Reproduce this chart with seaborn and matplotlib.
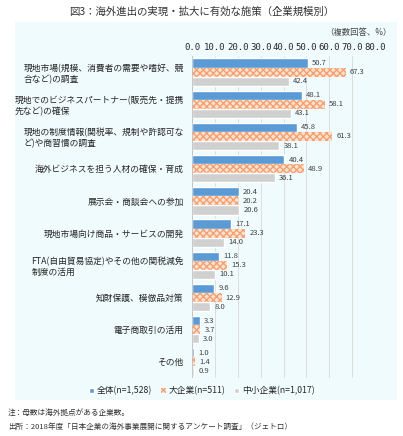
import matplotlib
matplotlib.use("Agg")
import matplotlib.pyplot as plt
import seaborn as sns
import pandas as pd
from matplotlib.patches import Rectangle

categories = ["現地市場(規模、消費者の需要や嗜好、競\n合など)の調査",
              "現地でのビジネスパートナー(販売先・提携\n先など)の確保",
              "現地の制度情報(関税率、規制や許認可な\nど)や商習慣の調査",
              "海外ビジネスを担う人材の確保・育成",
              "展示会・商談会への参加",
              "現地市場向け商品・サービスの開発",
              "FTA(自由貿易協定)やその他の関税減免\n制度の活用",
              "知財保護、模倣品対策",
              "電子商取引の活用",
              "その他"]
series = ["全体(n=1,528)", "大企業(n=511)", "中小企業(n=1,017)"]
all_vals = [50.7, 48.1, 45.8, 40.4, 20.4, 17.1, 11.8, 9.6, 3.3, 1.0]
large_vals = [67.3, 58.1, 61.3, 48.9, 20.2, 23.3, 15.3, 12.9, 3.7, 1.4]
sme_vals = [42.4, 43.1, 38.1, 36.1, 20.6, 14.0, 10.1, 8.0, 3.0, 0.9]
ticks = [0, 10, 20, 30, 40, 50, 60, 70, 80]

sns.set_theme(style="white")
plt.rcParams['font.family'] = ['Noto Sans CJK JP', 'DejaVu Sans']
plt.rcParams['hatch.color'] = "#f4a070"

df = pd.DataFrame({
    "cat": categories * 3,
    "val": all_vals + large_vals + sme_vals,
    "ser": [series[0]] * 10 + [series[1]] * 10 + [series[2]] * 10,
})

fig = plt.figure(figsize=(4.03, 4.36), dpi=100)
bg = fig.add_axes([15/403, 1-400/436, 382/403, 378/436], zorder=-5)
bg.set_facecolor("#f0fbfd")
bg.set_xticks([]); bg.set_yticks([])
for s in bg.spines.values():
    s.set_visible(False)

ax = fig.add_axes([192/403, 1-378/436, 183/403, 322/436], zorder=1)
ax.set_facecolor("none")
palette = ["#5b9bd5", "#fde2d0", "#d0d0d0"]
sns.barplot(data=df, y="cat", x="val", hue="ser", orient="h", palette=palette,
            ax=ax, width=0.85, saturation=1, legend=False)
for p in ax.containers[1]:
    p.set_hatch("xxxxx")
    p.set_edgecolor("#f4a070")
    p.set_linewidth(0)
for c in ax.containers:
    ax.bar_label(c, fmt="%.1f", padding=3, fontsize=5.5, color="#404040")
ax.set_xlim(0, 80)
ax.set_xticks(ticks)
ax.set_xticklabels([f"{t:.1f}" for t in ticks], fontsize=6.5, family="DejaVu Sans Mono")
ax.xaxis.tick_top()
ax.tick_params(axis="x", length=0, pad=3)
ax.tick_params(axis="y", length=0, labelsize=6.3, pad=6)
ax.grid(axis="x", color="#d9d9d9", linewidth=0.6)
ax.set_axisbelow(True)
for s in ax.spines.values():
    s.set_visible(False)
ax.axvline(0, color="#bfbfbf", linewidth=0.6)
ax.set_xlabel("")
ax.set_ylabel("")
for lbl in ax.get_yticklabels():
    lbl.set_horizontalalignment("right")
    lbl.set_multialignment("left")

fig.text(0.5, 1-12/436, "図3：海外進出の実現・拡大に有効な施策（企業規模別）", ha="center",
         va="center", fontsize=7.5, color="#333333")
fig.text(392/403, 1-33/436, "（複数回答、%）", ha="right", va="center", fontsize=6, color="#404040")

handles = [Rectangle((0, 0), 1, 1, facecolor=palette[0]),
           Rectangle((0, 0), 1, 1, facecolor=palette[1], hatch="xxxxx", edgecolor="#f4a070", linewidth=0),
           Rectangle((0, 0), 1, 1, facecolor=palette[2])]
fig.legend(handles, series, loc="center", bbox_to_anchor=(0.5, 1-391/436), ncol=3,
           frameon=False, fontsize=6.3, handlelength=0.6, handleheight=0.6,
           columnspacing=1.0, handletextpad=0.3)
fig.text(8/403, 1-413/436, "注：母数は海外拠点がある企業数。", fontsize=5.5, va="center", color="#333333")
fig.text(8/403, 1-427/436, "出所：2018年度「日本企業の海外事業展開に関するアンケート調査」（ジェトロ）",
         fontsize=5.5, va="center", color="#333333")
fig.savefig("out.png", dpi=100)
